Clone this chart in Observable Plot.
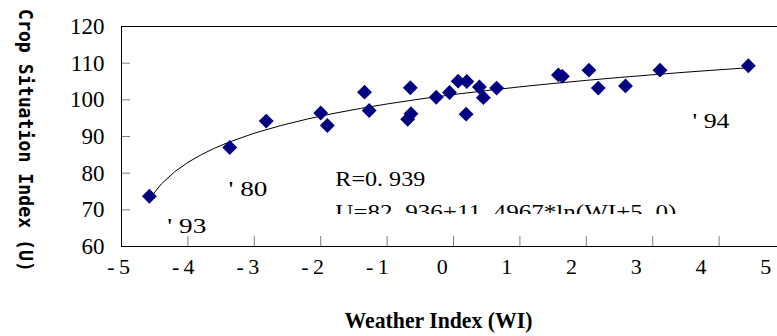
<!DOCTYPE html>
<html><head><meta charset="utf-8">
<script src="https://cdn.jsdelivr.net/npm/d3@7"></script>
<script src="https://cdn.jsdelivr.net/npm/@observablehq/plot@0.6"></script>
<style>
html,body{margin:0;padding:0;background:#fff;overflow:hidden;width:777px;height:336px}
</style>
</head><body><div id="chart"></div>
<script>
// Observed points: Weather Index (WI) and Crop Situation Index (U)
const weatherIndex = [-4.58, -3.37, -2.82, -2.00, -1.90, -1.34, -1.27, -0.65, -0.64, -0.69, -0.26, -0.06, 0.07, 0.20, 0.19, 0.39, 0.45, 0.65, 1.58, 1.64, 2.04, 2.18, 2.59, 3.11, 4.44];
const cropIndex    = [73.7, 87.0, 94.2, 96.4, 93.0, 102.1, 97.1, 103.3, 96.2, 94.7, 100.7, 102.0, 105.1, 105.0, 96.1, 103.5, 100.6, 103.2, 106.8, 106.4, 108.1, 103.2, 103.8, 108.1, 109.3];
// Trend curve
const trendW = [-4.58, -4.4, -4.2, -4.0, -3.8, -3.6, -3.4, -3.0, -2.6, -2.2, -1.8, -1.4, -1.0, -0.5, 0, 0.5, 1.0, 1.5, 2.0, 2.5, 3.0, 3.5, 4.0, 4.44];
const trendU = [72.96, 77.06, 80.37, 82.94, 85.03, 86.80, 88.34, 90.90, 93.00, 94.77, 96.31, 97.66, 98.87, 100.23, 101.44, 102.53, 103.54, 104.46, 105.31, 106.10, 106.84, 107.54, 108.20, 108.75];
const xTicks = [-5, -4, -3, -2, -1, 0, 1, 2, 3, 4, 5];
const yTicks = [60, 70, 80, 90, 100, 110, 120];
const yearLabels = ["' 93", "' 80", "' 94"];
const statLines = ["R=0. 939", "U=82. 936+11. 4967*ln(WI+5. 0)"];
const xTitle = "Weather Index (WI)";
const yTitle = "Crop Situation Index (U)";

const SERIF = "'Liberation Serif', serif";
const points = weatherIndex.map((w, i) => ({w, u: cropIndex[i]}));
const trend = trendW.map((w, i) => ({w, u: trendU[i]}));
const years = [
  {t: yearLabels[0], w: -4.31, u: 63.6},
  {t: yearLabels[1], w: -3.39, u: 73.8},
  {t: yearLabels[2], w: 3.60, u: 92.3}
];
const stats = [
  {t: statLines[0], w: -1.78, u: 76.55},
  {t: statLines[1], w: -1.78, u: 67.55}
];
// tick labels in the original sit on a slightly tighter spacing than the tick marks
const labelPos = v => (v + 5) * 0.9748 - 5.045;
const fmt = d => d < 0 ? "-\u2009" + (-d) : String(d);

const plot = Plot.plot({
  width: 786, height: 336,
  marginLeft: 121, marginRight: 1, marginTop: 26, marginBottom: 90,
  x: {domain: [-5, 5]},
  y: {domain: [60, 120]},
  style: {fontFamily: SERIF, maxWidth: "none", background: "#fff", color: "#000"},
  marks: [
    Plot.axisY(yTicks, {tickSize: -9, fill: "none", label: null, stroke: "#808080"}),
    Plot.axisY(yTicks, {tickSize: 0, tickPadding: 17, label: null, fontSize: 23, fontFamily: SERIF, fill: "#000"}),
    Plot.axisX(xTicks, {tickSize: -10, fill: "none", label: null, stroke: "#808080"}),
    Plot.text(xTicks, {x: labelPos, frameAnchor: "bottom", text: fmt, dy: 12, lineAnchor: "top", fontSize: 22, fontFamily: SERIF, fill: "#000"}),
    Plot.frame({stroke: "#000"}),
    Plot.line(trend, {x: "w", y: "u", stroke: "#000", strokeWidth: 1}),
    Plot.dot(points, {x: "w", y: "u", symbol: "diamond2", r: 6.7, fill: "#000080", stroke: "none"}),
    Plot.text(years, {x: "w", y: "u", text: "t", textAnchor: "start", lineAnchor: "bottom", fontSize: 22, fontFamily: SERIF, fill: "#000"}),
    Plot.text(stats, {x: "w", y: "u", text: "t", textAnchor: "start", lineAnchor: "bottom", fontSize: 22, fontFamily: SERIF, fill: "#000"}),
    Plot.text([xTitle], {frameAnchor: "bottom", textAnchor: "middle", dx: -15, dy: 81, lineAnchor: "bottom", fontSize: 24, fontWeight: "bold", fontFamily: SERIF, fill: "#000"}),
    Plot.text([yTitle], {frameAnchor: "left", textAnchor: "middle", lineAnchor: "middle", dx: -96, dy: 4, rotate: 90, fontSize: 19, fontWeight: "bold", fontFamily: "'DejaVu Sans Mono', monospace", fill: "#000"})
  ]
});

document.getElementById("chart").appendChild(plot);

// Fit text widths to the reference glyph widths
const widths = new Map([
  [xTitle, 188], [yTitle, 263],
  [statLines[0], 90], [statLines[1], 341],
  [yearLabels[0], 39], [yearLabels[1], 39], [yearLabels[2], 37]
]);
const yScale = plot.scale("y");
const ns = "http://www.w3.org/2000/svg";
const defs = document.createElementNS(ns, "defs");
const clip = document.createElementNS(ns, "clipPath");
clip.setAttribute("id", "stat-clip");
clip.setAttribute("clipPathUnits", "userSpaceOnUse");
const cr = document.createElementNS(ns, "rect");
cr.setAttribute("x", 0); cr.setAttribute("y", 0);
cr.setAttribute("width", 786); cr.setAttribute("height", yScale.apply(68.84));
clip.appendChild(cr); defs.appendChild(clip); plot.insertBefore(defs, plot.firstChild);

plot.querySelectorAll("text").forEach(el => {
  const s = el.textContent;
  if (widths.has(s)) {
    el.setAttribute("textLength", widths.get(s));
    el.setAttribute("lengthAdjust", "spacingAndGlyphs");
  }
  if (s === statLines[1]) {
    const g = document.createElementNS(ns, "g");
    g.setAttribute("clip-path", "url(#stat-clip)");
    el.parentNode.insertBefore(g, el);
    g.appendChild(el);
  }
});
</script>
</body></html>
